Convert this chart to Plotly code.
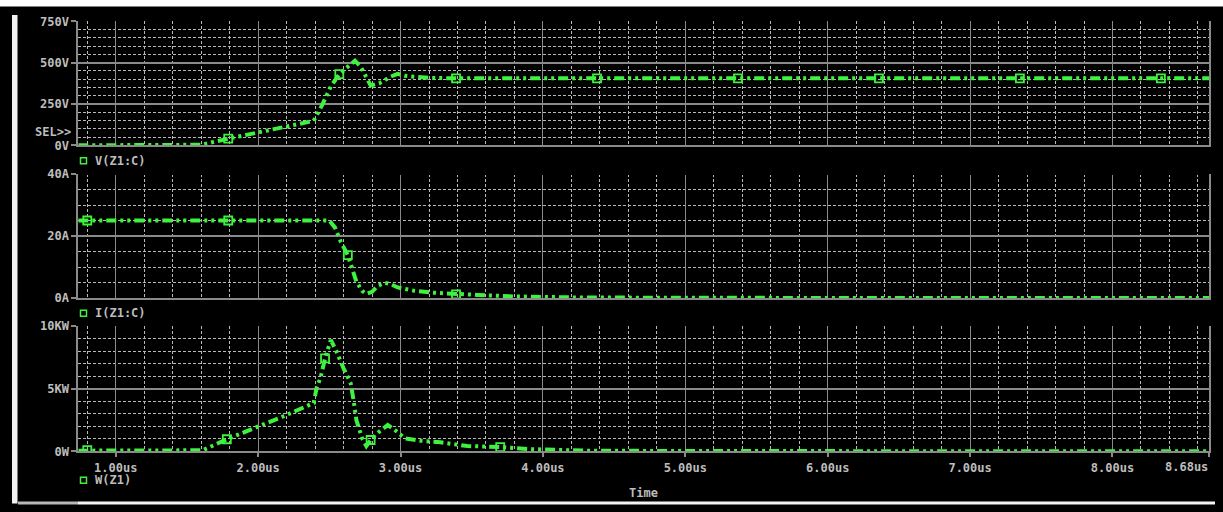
import plotly.graph_objects as go

# ---------------- data ----------------
v_time = [0.737, 1.0, 1.3, 1.6, 1.79, 1.99, 2.20, 2.39, 2.45, 2.51, 2.57, 2.68, 2.72, 2.79,
          2.85, 2.93, 2.98, 3.03, 3.20, 3.39, 4.0, 5.0, 6.0, 7.0, 8.0, 8.68]
v_vals = [0, 0, 1, 3, 40, 76, 117, 148, 244, 355, 430, 512, 476, 362,
          375, 415, 432, 420, 408, 405, 405, 405, 405, 405, 405, 405]
v_mark_t = [1.79, 2.57, 3.39, 4.38, 5.37, 6.36, 7.35, 8.34]
v_mark_y = [40, 430, 405, 405, 405, 405, 405, 405]

i_time = [0.737, 1.0, 2.0, 2.50, 2.54, 2.58, 2.63, 2.66, 2.69, 2.73, 2.76, 2.80, 2.84,
          2.89, 2.93, 2.98, 3.10, 3.23, 3.39, 3.54, 3.80, 4.20, 5.0, 8.68]
i_vals = [25, 25, 25, 25, 22.7, 18.2, 13.8, 9.6, 5.3, 2.3, 1.3, 2.0, 3.9,
          4.9, 4.5, 3.4, 2.3, 1.7, 1.2, 1.0, 0.5, 0.2, 0.05, 0.0]
i_mark_t = [0.80, 1.79, 2.63, 3.39]
i_mark_y = [25, 25, 13.8, 1.2]

w_time = [0.737, 1.0, 1.3, 1.61, 1.78, 1.99, 2.17, 2.39, 2.41, 2.44, 2.47, 2.51, 2.54,
          2.60, 2.65, 2.67, 2.69, 2.73, 2.76, 2.79, 2.83, 2.91, 2.96, 3.03, 3.14,
          3.28, 3.47, 3.70, 3.89, 4.30, 5.0, 8.68]
w_vals = [0.05, 0.05, 0.05, 0.08, 0.96, 1.9, 2.76, 3.85, 5.03, 5.95, 7.42, 8.88, 8.22,
          6.62, 5.43, 4.09, 2.5, 1.04, 0.42, 0.9, 1.38, 2.1, 1.7, 1.04, 0.85,
          0.72, 0.42, 0.34, 0.18, 0.05, 0.02, 0.0]
w_mark_t = [0.80, 1.78, 2.47, 2.79, 3.70]
w_mark_y = [0.1, 0.96, 7.42, 0.9, 0.34]

x_ticks = [1, 2, 3, 4, 5, 6, 7, 8, 8.68]
x_labels = ["1.00us", "2.00us", "3.00us", "4.00us", "5.00us", "6.00us", "7.00us", "8.00us", ""]
v_ticks, v_labels = [0, 250, 500, 750], ["0V", "250V", "500V", "750V"]
i_ticks, i_labels = [0, 20, 40], ["0A", "20A", "40A"]
w_ticks, w_labels = [0, 5, 10], ["0W", "5KW", "10KW"]
trace_names = ["V(Z1:C)", "I(Z1:C)", "W(Z1)"]

# ---------------- styling ----------------
W, H = 1223, 512
GREEN = "#3ff23f"
TXT = "#bdbdbd"
MAJOR = "#8a8a8a"
MINOR = "#b8b8b8"
FONT = dict(family="DejaVu Sans Mono", size=12, color=TXT, weight="bold")
DASH = "10px,4px,3px,4px,3px,4px"

def px(x):
    return x / W

def py(y):
    return 1 - y / H

X0, X1 = 78.3, 1209.3
xdom = [px(X0), px(X1)]
panels = [(21.3, 145.3), (174.0, 298.0), (326.0, 451.3)]

fig = go.Figure()

series = [(v_time, v_vals, v_mark_t, v_mark_y),
          (i_time, i_vals, i_mark_t, i_mark_y),
          (w_time, w_vals, w_mark_t, w_mark_y)]
for k, (t, y, mt, my) in enumerate(series):
    ax = "" if k == 0 else str(k + 1)
    fig.add_trace(go.Scatter(x=t, y=y, mode="lines", xaxis="x" + ax, yaxis="y" + ax,
                             line=dict(color=GREEN, width=4, dash=DASH),
                             showlegend=False, hoverinfo="skip"))
    fig.add_trace(go.Scatter(x=mt, y=my, mode="markers", xaxis="x" + ax, yaxis="y" + ax,
                             marker=dict(symbol="square-open", size=8, color=GREEN,
                                         line=dict(color=GREEN, width=1.8)),
                             showlegend=False, hoverinfo="skip"))

yinfo = [(v_ticks, v_labels, [0, 750], 50),
         (i_ticks, i_labels, [0, 40], 5),
         (w_ticks, w_labels, [0, 10], 1)]

layout = dict(width=W, height=H, autosize=False,
              margin=dict(l=0, r=0, t=0, b=0, pad=0, autoexpand=False),
              paper_bgcolor="black", plot_bgcolor="black", font=FONT,
              showlegend=False, hovermode=False)

for k in range(3):
    ax = "" if k == 0 else str(k + 1)
    top, bot = panels[k]
    tv, tt, rng, mdt = yinfo[k]
    last = (k == 2)
    layout["xaxis" + ax] = dict(
        domain=xdom, range=[0.737, 8.68], anchor="y" + ax, automargin=False,
        tickmode="array", tickvals=x_ticks, ticktext=x_labels if last else [""] * len(x_ticks),
        showticklabels=last, ticks="outside" if last else "", ticklen=4, tickwidth=1.5,
        tickcolor=MAJOR, tickfont=FONT,
        showgrid=True, gridcolor=MAJOR, gridwidth=1.2,
        minor=dict(tickmode="linear", tick0=0, dtick=0.2, showgrid=True,
                   gridcolor=MINOR, gridwidth=1, griddash="3px,2px", ticks=""),
        showline=True, linecolor=MAJOR, linewidth=2, mirror=False, zeroline=False,
        fixedrange=True)
    layout["yaxis" + ax] = dict(
        domain=[py(bot), py(top)], range=rng, anchor="x" + ax, automargin=False,
        tickmode="array", tickvals=tv, ticktext=tt, ticks="outside", ticklen=5,
        tickwidth=1.5, tickcolor=MAJOR, tickfont=FONT,
        showgrid=True, gridcolor=MAJOR, gridwidth=1.5,
        minor=dict(tickmode="linear", tick0=0, dtick=mdt, showgrid=True,
                   gridcolor=MINOR, gridwidth=1, griddash="3px,2px", ticks=""),
        showline=True, linecolor=MAJOR, linewidth=2, mirror=True, zeroline=False,
        fixedrange=True)

fig.update_layout(**layout)

shapes = []
# hide the top gridline of the middle panel (no frame there in the original)
shapes.append(dict(type="line", xref="x2", yref="y2", x0=0.737, x1=8.60, y0=40, y1=40,
                   line=dict(color="black", width=2), layer="between"))
# window frame pieces
shapes.append(dict(type="rect", xref="paper", yref="paper", x0=0, x1=1, y0=py(6.5), y1=1,
                   fillcolor="white", line=dict(width=0)))
shapes.append(dict(type="rect", xref="paper", yref="paper", x0=px(12), x1=px(17.5),
                   y0=py(503.5), y1=py(15), fillcolor="#f2f2f2", line=dict(width=0)))
shapes.append(dict(type="rect", xref="paper", yref="paper", x0=px(18), x1=px(78),
                   y0=py(504.5), y1=py(501.5), fillcolor="#b8b8b8", line=dict(width=0)))
shapes.append(dict(type="rect", xref="paper", yref="paper", x0=px(78), x1=px(1215),
                   y0=py(504.5), y1=py(501.5), fillcolor="#f4f4f4", line=dict(width=0)))

annotations = []
legend_y = [160.7, 313.3, 480.3]
for k in range(3):
    yc = legend_y[k]
    shapes.append(dict(type="rect", xref="paper", yref="paper", x0=px(80.5), x1=px(86.5),
                       y0=py(yc + 3), y1=py(yc - 3), line=dict(color=GREEN, width=1.5),
                       fillcolor="rgba(0,0,0,0)"))
    annotations.append(dict(text=trace_names[k], xref="paper", yref="paper",
                            x=px(92.5), y=py(yc), xanchor="left", yanchor="middle",
                            showarrow=False, font=FONT))

annotations.append(dict(text="SEL>>", xref="paper", yref="paper", x=px(72.5), y=py(132.3),
                        xanchor="right", yanchor="middle", showarrow=False, font=FONT))
annotations.append(dict(text="8.68us", xref="paper", yref="paper", x=px(1209.5), y=py(466.5),
                        xanchor="right", yanchor="middle", showarrow=False, font=FONT))
annotations.append(dict(text="Time", xref="paper", yref="paper", x=px(643), y=py(493),
                        xanchor="center", yanchor="middle", showarrow=False, font=FONT))

fig.update_layout(shapes=shapes, annotations=annotations)
fig.write_html("out.html", config={"displayModeBar": False, "responsive": False},
               post_script="document.body.style.margin='0px';"
                           "document.body.style.overflow='hidden';"
                           "document.body.style.background='black';")
